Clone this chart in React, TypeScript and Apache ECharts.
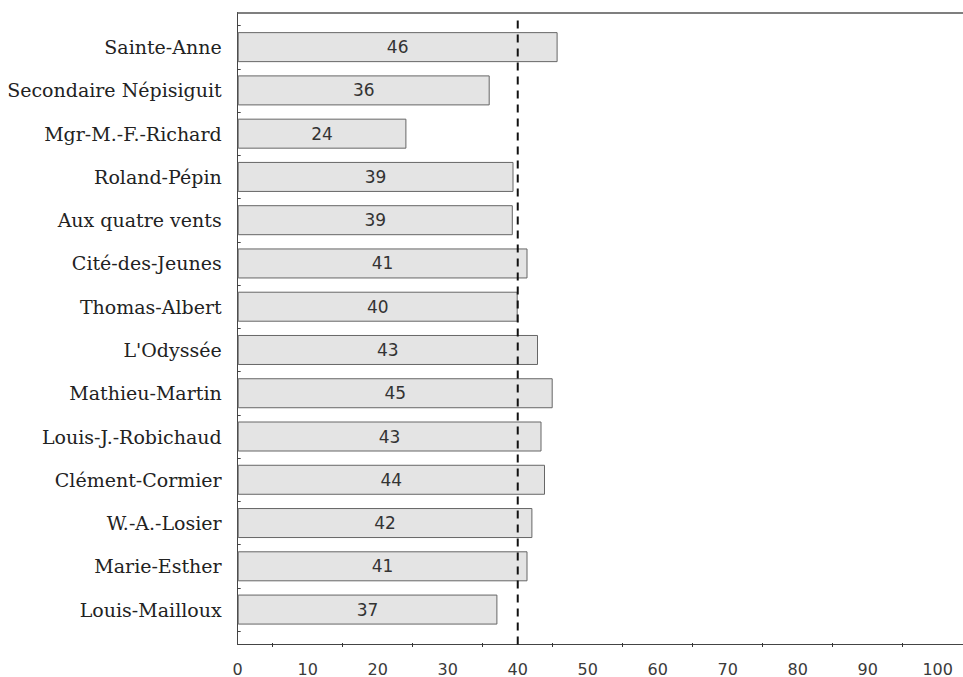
import React, { useEffect, useRef } from 'react';
import * as echarts from 'echarts';

const categories = [
  'Sainte-Anne',
  'Secondaire Népisiguit',
  'Mgr-M.-F.-Richard',
  'Roland-Pépin',
  'Aux quatre vents',
  'Cité-des-Jeunes',
  'Thomas-Albert',
  "L'Odyssée",
  'Mathieu-Martin',
  'Louis-J.-Robichaud',
  'Clément-Cormier',
  'W.-A.-Losier',
  'Marie-Esther',
  'Louis-Mailloux',
];

const values = [45.7, 36.0, 24.1, 39.4, 39.3, 41.4, 40.0, 42.9, 45.0, 43.4, 43.9, 42.1, 41.4, 37.1];

const referenceValue = 40;
const axisMin = 0;
const axisMax = 100;
const axisInterval = 10;

export default function App() {
  const ref = useRef<HTMLDivElement>(null);

  useEffect(() => {
    if (!ref.current) return;
    const chart = echarts.init(ref.current, undefined, { renderer: 'svg' });
    const frameMax = 103.6;
    chart.setOption({
      animation: false,
      backgroundColor: '#ffffff',
      grid: [
        { left: 237.7, right: 0, top: 12.5, bottom: 32.5 },
        { left: 237.7, right: 25.3, top: 25.5, bottom: 44.3 },
      ],
      xAxis: [
        {
          gridIndex: 0,
          type: 'value',
          min: 0,
          max: frameMax,
          axisLine: { show: true, onZero: false, lineStyle: { color: '#444', width: 1 } },
          axisTick: { show: false },
          axisLabel: { show: false },
          splitLine: { show: false },
        },
        {
          gridIndex: 0,
          type: 'value',
          position: 'top',
          min: 0,
          max: frameMax,
          axisLine: { show: true, onZero: false, lineStyle: { color: '#555', width: 1.5 } },
          axisTick: { show: false },
          axisLabel: { show: false },
          splitLine: { show: false },
        },
        {
          gridIndex: 1,
          type: 'value',
          min: axisMin,
          max: axisMax,
          interval: axisInterval,
          offset: 11.8,
          axisLine: { show: false, onZero: false },
          axisTick: { show: false },
          minorTick: { show: true, splitNumber: 2, length: 4, lineStyle: { color: '#333', width: 1 } },
          axisLabel: { fontFamily: 'DejaVu Sans', fontSize: 16, color: '#3a3a3a', margin: 18 },
          splitLine: { show: false },
          minorSplitLine: { show: false },
        },
      ],
      yAxis: [
        {
          gridIndex: 0,
          type: 'value',
          min: 0,
          max: 1,
          axisLine: { show: true, onZero: false, lineStyle: { color: '#444', width: 1 } },
          axisTick: { show: false },
          axisLabel: { show: false },
          splitLine: { show: false },
        },
        {
          gridIndex: 1,
          type: 'category',
          data: categories,
          inverse: true,
          axisLine: { show: false, onZero: false },
          axisTick: { show: true, inside: true, length: 3, lineStyle: { color: '#444' } },
          axisLabel: { fontFamily: 'DejaVu Serif', fontSize: 19, color: '#222', margin: 16 },
          splitLine: { show: false },
        },
      ],
      series: [
        {
          type: 'bar',
          xAxisIndex: 2,
          yAxisIndex: 1,
          data: values,
          barWidth: 30,
          itemStyle: { color: '#e4e4e4', borderColor: '#666', borderWidth: 1 },
          label: {
            show: true,
            position: 'inside',
            formatter: (p: any) => String(Math.round(p.value)),
            fontFamily: 'DejaVu Sans',
            fontSize: 17,
            color: '#333',
          },
          z: 2,
        },
        {
          type: 'line',
          xAxisIndex: 0,
          yAxisIndex: 0,
          data: [
            [referenceValue, 0],
            [referenceValue, 0.988],
          ],
          symbol: 'none',
          silent: true,
          lineStyle: { type: [8, 6], color: '#111', width: 2 },
          z: 5,
        },
      ],
    });
    return () => chart.dispose();
  }, []);

  return (
    <div
      ref={ref}
      style={{ position: 'fixed', left: 0, top: 0, width: 963, height: 677 }}
    />
  );
}
